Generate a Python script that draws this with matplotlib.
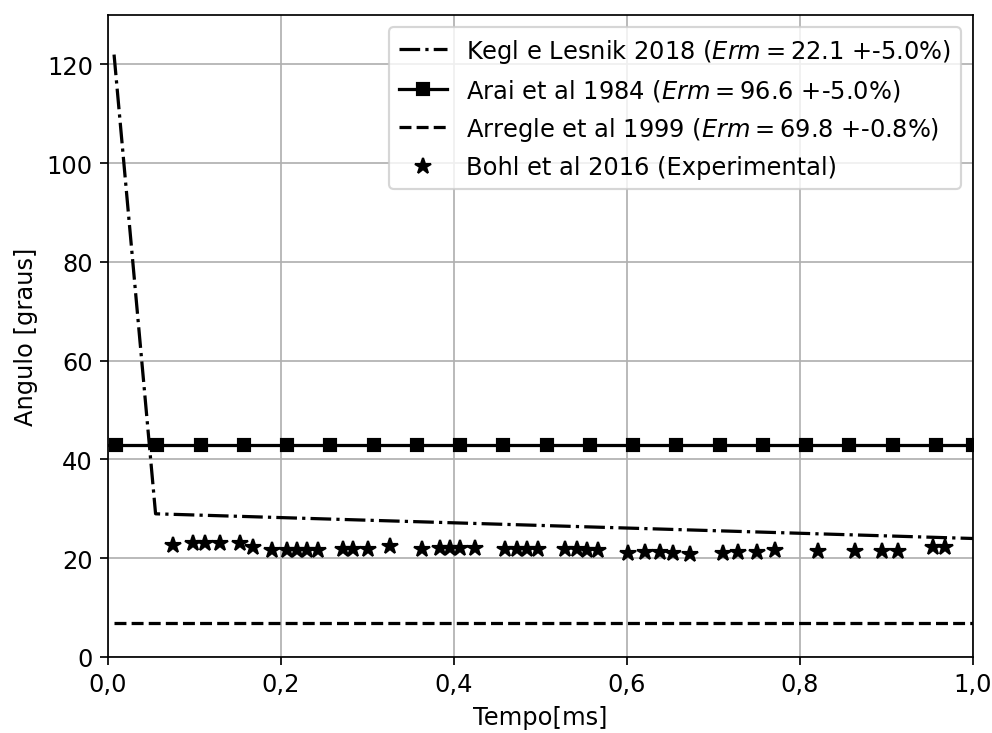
import matplotlib
matplotlib.use("Agg")
import matplotlib.pyplot as plt
from matplotlib.ticker import FuncFormatter

plt.rcParams['font.size'] = 11.2

# Kegl e Lesnik 2018
kegl_t = [0.007, 0.055, 1.0]
kegl_ang = [122.0, 29.0, 24.0]

# Arai et al 1984
arai_t = [0.0, 0.009, 0.057, 0.107, 0.157, 0.207, 0.257, 0.307, 0.357, 0.407, 0.457,
          0.507, 0.557, 0.607, 0.657, 0.707, 0.757, 0.807, 0.857, 0.907, 0.957, 1.0]
arai_ang = [43.0] * len(arai_t)

# Arregle et al 1999
arr_t = [0.007, 1.0]
arr_ang = [6.9, 6.9]

# Bohl et al 2016 (experimental)
bohl_t = [0.075, 0.098, 0.112, 0.129, 0.153, 0.168, 0.190, 0.207, 0.218, 0.230, 0.243,
          0.272, 0.283, 0.301, 0.326, 0.363, 0.384, 0.395, 0.407, 0.424,
          0.459, 0.473, 0.484, 0.497, 0.528, 0.542, 0.554, 0.566,
          0.601, 0.621, 0.638, 0.653, 0.673, 0.711, 0.728, 0.750, 0.771,
          0.821, 0.864, 0.895, 0.913, 0.954, 0.968]
bohl_ang = [22.6, 23.1, 23.1, 23.1, 23.1, 22.3, 21.6, 21.6, 21.6, 21.6, 21.6,
            21.8, 21.8, 21.9, 22.5, 21.9, 22.1, 22.1, 22.1, 22.1,
            21.8, 21.8, 21.8, 21.9, 21.9, 21.9, 21.6, 21.6,
            21.1, 21.3, 21.3, 21.1, 20.9, 21.0, 21.3, 21.3, 21.6,
            21.4, 21.4, 21.4, 21.4, 22.3, 22.3]

labels = [r"Kegl e Lesnik 2018 ($Erm = 22.1$ +-5.0%)",
          r"Arai et al 1984 ($Erm = 96.6$ +-5.0%)",
          r"Arregle et al 1999 ($Erm = 69.8$ +-0.8%)",
          "Bohl et al 2016 (Experimental)"]

fig = plt.figure(figsize=(6.4, 4.735), dpi=155)
ax = fig.add_axes([108/992, 1-658/734, (973-108)/992, (658-16)/734])

ax.plot(kegl_t, kegl_ang, 'k-.', lw=1.5, label=labels[0])
ax.plot(arai_t, arai_ang, 'k-', marker='s', ms=6, lw=1.5,
        markevery=list(range(1, len(arai_t))), label=labels[1])
ax.plot(arr_t, arr_ang, 'k--', lw=1.5, label=labels[2])
ax.plot(bohl_t, bohl_ang, 'k*', ms=7.5, ls='none', label=labels[3])

ax.set_xlim(0, 1.0)
ax.set_ylim(0, 130)
ax.set_yticks([0, 20, 40, 60, 80, 100, 120])
ax.set_xticks([0, 0.2, 0.4, 0.6, 0.8, 1.0])
ax.xaxis.set_major_formatter(FuncFormatter(lambda v, p: f"{v:.1f}".replace('.', ',')))
ax.grid(True)
ax.set_xlabel("Tempo[ms]")
ax.set_ylabel("Angulo [graus]")
ax.legend(loc='upper right')

fig.savefig("out.png", dpi=155)
